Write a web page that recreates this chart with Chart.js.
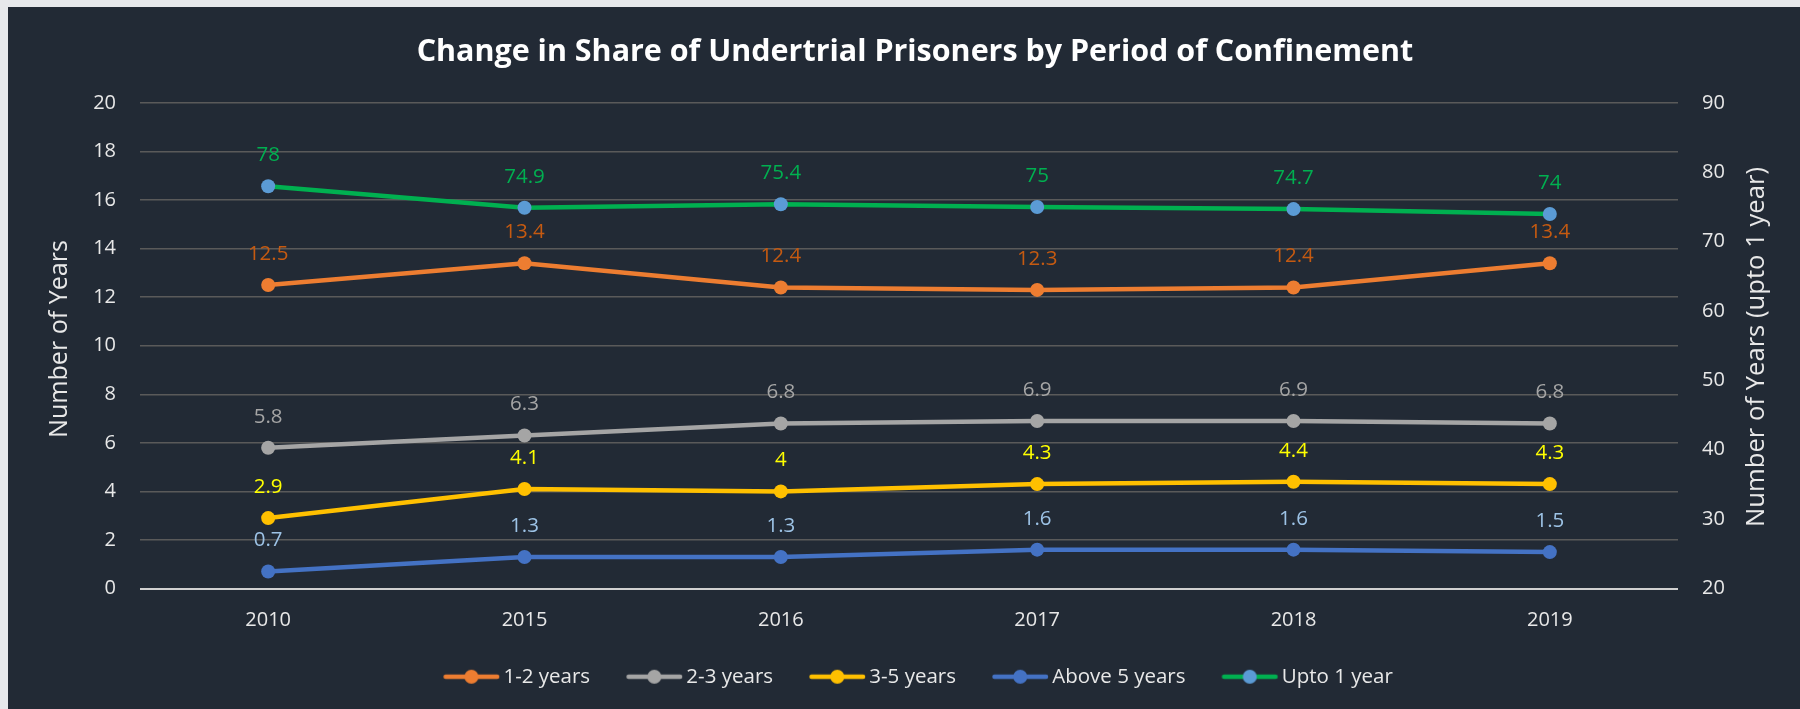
<!DOCTYPE html>
<html>
<head>
<meta charset="utf-8">
<script src="https://cdn.jsdelivr.net/npm/chart.js@4.4.1/dist/chart.umd.min.js"></script>
<style>
  html, body { margin: 0; padding: 0; width: 1800px; height: 709px; overflow: hidden; background: #e6e8eb; }
  #wrap { position: absolute; left: 8px; top: 7px; width: 1792px; height: 702px; background: #222a35; }
  canvas { display: block; }
</style>
</head>
<body>
<div id="wrap"><canvas id="c" width="1792" height="702"></canvas></div>
<script>
// ---------------- data ----------------
const years = ['2010', '2015', '2016', '2017', '2018', '2019'];
const oneToTwoYears = [12.5, 13.4, 12.4, 12.3, 12.4, 13.4];
const twoToThreeYears = [5.8, 6.3, 6.8, 6.9, 6.9, 6.8];
const threeToFiveYears = [2.9, 4.1, 4, 4.3, 4.4, 4.3];
const aboveFiveYears = [0.7, 1.3, 1.3, 1.6, 1.6, 1.5];
const uptoOneYear = [78, 74.9, 75.4, 75, 74.7, 74];
const seriesNames = ['1-2 years', '2-3 years', '3-5 years', 'Above 5 years', 'Upto 1 year'];
const leftAxisTicks = [0, 2, 4, 6, 8, 10, 12, 14, 16, 18, 20];
const rightAxisTicks = [20, 30, 40, 50, 60, 70, 80, 90];
const chartTitle = 'Change in Share of Undertrial Prisoners by Period of Confinement';
const leftAxisTitle = 'Number of Years';
const rightAxisTitle = 'Number of Years (upto 1 year)';

// ---------------- styles ----------------
const FONT = "'Open Sans', 'DejaVu Sans', sans-serif";
const TEXT = '#e8e8e8';
const lineColors  = ['#ed7d31', '#a5a5a5', '#ffc000', '#4472c4', '#00b050'];
const pointColors = ['#ed7d31', '#a5a5a5', '#ffc000', '#4472c4', '#5b9bd5'];
const labelColors = ['#c55a11', '#a5a5a5', '#ffff00', '#9dc3e6', '#00b050'];

function fitSize(text, weight, targetWidth) {
  const m = document.createElement('canvas').getContext('2d');
  m.font = weight + ' 100px ' + FONT;
  return 100 * targetWidth / m.measureText(text).width;
}
const titleSize = fitSize(chartTitle, 'bold', 997);
const leftTitleSize = fitSize(leftAxisTitle, 'normal', 198);
const rightTitleSize = fitSize(rightAxisTitle, 'normal', 360);

// legend symbol: line with a dot, shifted right inside its box so it sits close to the text
function legendIcon(lineColor, dotColor) {
  const c = document.createElement('canvas');
  c.width = 72; c.height = 16;
  const g = c.getContext('2d');
  g.strokeStyle = lineColor; g.lineWidth = 4.5; g.lineCap = 'round';
  g.beginPath(); g.moveTo(16.5, 8); g.lineTo(68, 8); g.stroke();
  g.fillStyle = dotColor;
  g.beginPath(); g.arc(42.25, 8, 7, 0, Math.PI * 2); g.fill();
  return c;
}

const seriesValues = [oneToTwoYears, twoToThreeYears, threeToFiveYears, aboveFiveYears, uptoOneYear];
const datasets = seriesValues.map((vals, i) => ({
  label: seriesNames[i],
  data: vals,
  yAxisID: i === 4 ? 'y1' : 'y',
  borderColor: lineColors[i],
  backgroundColor: pointColors[i],
  pointBackgroundColor: pointColors[i],
  pointBorderColor: pointColors[i],
  pointBorderWidth: 0,
  pointRadius: 7,
  borderWidth: 4.5,
  tension: 0,
  fill: false,
  order: 5 - i
}));

const labelPlugin = {
  id: 'pointLabels',
  afterDatasetsDraw(chart) {
    const ctx = chart.ctx;
    ctx.save();
    ctx.font = '20.5px ' + FONT;
    ctx.textAlign = 'center';
    ctx.textBaseline = 'middle';
    chart.data.datasets.forEach((ds, i) => {
      const meta = chart.getDatasetMeta(i);
      ctx.fillStyle = labelColors[i];
      meta.data.forEach((pt, j) => {
        ctx.fillText(String(ds.data[j]), pt.x, pt.y - 31);
      });
    });
    ctx.restore();
  }
};

const axisTitlePlugin = {
  id: 'axisTitles',
  afterDraw(chart) {
    const ctx = chart.ctx;
    ctx.save();
    ctx.fillStyle = TEXT;
    ctx.textAlign = 'center';
    ctx.textBaseline = 'middle';
    ctx.font = leftTitleSize + 'px ' + FONT;
    ctx.translate(52, 332);
    ctx.rotate(-Math.PI / 2);
    ctx.fillText(leftAxisTitle, 0, 0);
    ctx.restore();
    ctx.save();
    ctx.fillStyle = TEXT;
    ctx.textAlign = 'center';
    ctx.textBaseline = 'middle';
    ctx.font = rightTitleSize + 'px ' + FONT;
    ctx.translate(1749, 340);
    ctx.rotate(-Math.PI / 2);
    ctx.fillText(rightAxisTitle, 0, 0);
    ctx.restore();
  }
};

new Chart(document.getElementById('c'), {
  type: 'line',
  data: { labels: years, datasets },
  options: {
    responsive: false,
    devicePixelRatio: 1,
    animation: false,
    layout: { padding: { left: 22, right: 0, top: 0, bottom: 12 } },
    plugins: {
      title: {
        display: true,
        text: chartTitle,
        color: '#ffffff',
        font: { family: FONT, size: titleSize, weight: 'bold' },
        padding: { top: 45 - titleSize * 0.6, bottom: 96 - (45 + titleSize * 0.6) }
      },
      legend: {
        position: 'bottom',
        labels: {
          color: TEXT,
          font: { family: FONT, size: 20.5 },
          usePointStyle: true,
          pointStyleWidth: 56,
          padding: 30,
          generateLabels(chart) {
            return chart.data.datasets.map((ds, i) => ({
              text: ds.label,
              fontColor: TEXT,
              pointStyle: legendIcon(lineColors[i], pointColors[i]),
              datasetIndex: i,
              hidden: false,
              lineWidth: 0,
              strokeStyle: 'transparent',
              fillStyle: 'transparent'
            }));
          }
        }
      },
      tooltip: { enabled: false }
    },
    scales: {
      x: {
        offset: true,
        grid: { display: false, drawTicks: false },
        border: { display: false },
        ticks: { color: TEXT, font: { family: FONT, size: 20 }, padding: 20 },
        afterFit(s) { s.height = 48; }
      },
      y: {
        position: 'left',
        min: leftAxisTicks[0],
        max: leftAxisTicks[leftAxisTicks.length - 1],
        afterBuildTicks(s) { s.ticks = leftAxisTicks.map(v => ({ value: v })); },
        grid: {
          drawTicks: false,
          color: ctx => ctx.tick && ctx.tick.value === 0 ? '#d0d0d0' : '#5a5a5a',
          lineWidth: ctx => ctx.tick && ctx.tick.value === 0 ? 2 : 1.5
        },
        border: { display: false },
        ticks: { color: TEXT, font: { family: FONT, size: 20 }, padding: 24 },
        afterFit(s) { s.width = 110; }
      },
      y1: {
        position: 'right',
        min: rightAxisTicks[0],
        max: rightAxisTicks[rightAxisTicks.length - 1],
        afterBuildTicks(s) { s.ticks = rightAxisTicks.map(v => ({ value: v })); },
        grid: { display: false, drawTicks: false },
        border: { display: false },
        ticks: { color: TEXT, font: { family: FONT, size: 20 }, padding: 24 },
        afterFit(s) { s.width = 122; }
      }
    }
  },
  plugins: [labelPlugin, axisTitlePlugin]
});
</script>
</body>
</html>
